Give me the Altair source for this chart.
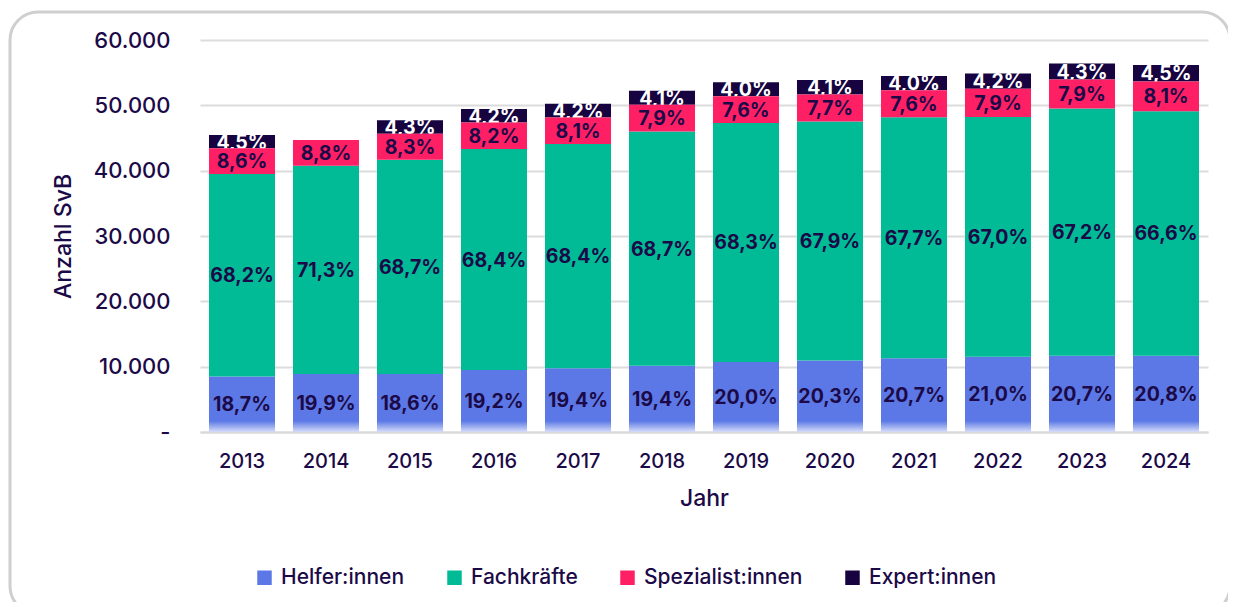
import altair as alt
import pandas as pd

years = ["2013", "2014", "2015", "2016", "2017", "2018", "2019", "2020", "2021", "2022", "2023", "2024"]
categories = ["Helfer:innen", "Fachkräfte", "Spezialist:innen", "Expert:innen"]
colors = ["#5b78e6", "#00bb96", "#ff1f65", "#16033f"]

helfer = [8501, 8893, 8882, 9492, 9739, 10125, 10714, 10938, 11279, 11508, 11660, 11683]
fach = [31004, 31864, 32804, 33817, 34337, 35855, 36588, 36585, 36890, 36716, 37854, 37409]
spez = [3910, 3933, 3963, 4054, 4066, 4123, 4071, 4149, 4141, 4329, 4450, 4550]
expert = [2046, 0, 2053, 2076, 2108, 2140, 2143, 2209, 2180, 2302, 2422, 2528]

helfer_pct = ["18,7%", "19,9%", "18,6%", "19,2%", "19,4%", "19,4%", "20,0%", "20,3%", "20,7%", "21,0%", "20,7%", "20,8%"]
fach_pct = ["68,2%", "71,3%", "68,7%", "68,4%", "68,4%", "68,7%", "68,3%", "67,9%", "67,7%", "67,0%", "67,2%", "66,6%"]
spez_pct = ["8,6%", "8,8%", "8,3%", "8,2%", "8,1%", "7,9%", "7,6%", "7,7%", "7,6%", "7,9%", "7,9%", "8,1%"]
expert_pct = ["4,5%", "", "4,3%", "4,2%", "4,2%", "4,1%", "4,0%", "4,1%", "4,0%", "4,2%", "4,3%", "4,5%"]

TXT = "#1b0a47"
FONT = "Inter"

series = [helfer, fach, spez, expert]
labels = [helfer_pct, fach_pct, spez_pct, expert_pct]
label_colors = [TXT, TXT, TXT, "#ffffff"]

rows = []
for ci, cat in enumerate(categories):
    for yi, yr in enumerate(years):
        rows.append({
            "year": yr,
            "cat": cat,
            "ord": ci,
            "value": series[ci][yi],
            "label": labels[ci][yi],
            "lcolor": label_colors[ci],
        })
df = pd.DataFrame(rows)

x_enc = alt.X(
    "year:N",
    title="Jahr",
    scale=alt.Scale(paddingInner=0.214, paddingOuter=0.107),
    axis=alt.Axis(
        labelAngle=0, labelFontSize=20, labelFont=FONT, labelColor=TXT, labelFontWeight=500,
        labelPadding=19, ticks=False, domainColor="#d9d9d9", domainWidth=2,
        titleFontSize=23, titleFont=FONT, titleColor=TXT, titleFontWeight=500, titlePadding=16,
    ),
)

y_scale = alt.Scale(domain=[0, 60000], nice=False)
y_axis = alt.Axis(
    values=[0, 10000, 20000, 30000, 40000, 50000, 60000],
    labelExpr="datum.value == 0 ? '-\u00a0\u00a0\u00a0' : replace(format(datum.value, ','), ',', '.')",
    labelFontSize=22, labelFont=FONT, labelColor=TXT, labelFontWeight=500,
    labelPadding=30, ticks=False, domain=False,
    gridColor="#dcdcdc", gridWidth=2,
    titleFontSize=23, titleFont=FONT, titleColor=TXT, titleFontWeight=500, titlePadding=18,
)

stacked = alt.Chart(df).transform_stack(
    stack="value", as_=["y0", "y1"], groupby=["year"],
    sort=[alt.SortField("ord", order="ascending")],
).transform_calculate(
    mid="(datum.y0 + datum.y1) / 2"
)

color_enc = alt.Color(
    "cat:N",
    scale=alt.Scale(domain=categories, range=colors),
    legend=alt.Legend(
        title=None, orient="none", legendX=54, legendY=527, direction="horizontal",
        symbolType="square", symbolSize=210, symbolStrokeWidth=0,
        labelFontSize=21, labelFont=FONT, labelColor=TXT, labelFontWeight=500,
        columnPadding=39, labelOffset=6,
    ),
    sort=categories,
)

is_exp = "datum.cat == 'Expert:innen'"
not_exp = "datum.cat != 'Expert:innen'"

bars_exp = stacked.transform_filter(is_exp).mark_bar().encode(
    x=x_enc,
    y=alt.Y("y0:Q", title="Anzahl SvB", scale=y_scale, axis=y_axis),
    y2="y1:Q",
    color=color_enc,
)

bars_rest = stacked.transform_filter(not_exp).mark_bar().encode(
    x=x_enc,
    y=alt.Y("y0:Q", title="Anzahl SvB", scale=y_scale, axis=y_axis),
    y2="y1:Q",
    color=color_enc,
)

text_kw = dict(font=FONT, fontSize=19.5, fontWeight="bold", baseline="middle", align="center", dy=1)

texts_exp = stacked.transform_filter(is_exp).transform_filter("datum.label != ''").mark_text(**text_kw).encode(
    x=alt.X("year:N"),
    y=alt.Y("mid:Q"),
    text="label:N",
    color=alt.Color("lcolor:N", scale=None),
)

texts_rest = stacked.transform_filter(not_exp).mark_text(**text_kw).encode(
    x=alt.X("year:N"),
    y=alt.Y("mid:Q"),
    text="label:N",
    color=alt.Color("lcolor:N", scale=None),
)

fade = alt.Chart(pd.DataFrame({"year": years})).mark_bar(
    color=alt.Gradient(
        gradient="linear",
        stops=[
            alt.GradientStop(color="rgba(255,255,255,0)", offset=0),
            alt.GradientStop(color="rgba(255,255,255,0.75)", offset=1),
        ],
        x1=0, x2=0, y1=0, y2=1,
    )
).encode(
    x=alt.X("year:N"),
    y=alt.datum(0),
    y2=alt.datum(1700),
)

border = alt.Chart(pd.DataFrame({"a": [0]})).mark_rect(
    fillOpacity=0, stroke="#cfcfcf", strokeWidth=3, cornerRadius=28
).encode(
    x=alt.value(-190), x2=alt.value(1030), y=alt.value(-28), y2=alt.value(574)
)

chart = alt.layer(border, bars_exp, texts_exp, bars_rest, fade, texts_rest).properties(
    width=1008,
    height=392,
    padding={"left": 192, "top": 32, "right": 20, "bottom": 170},
    autosize=alt.AutoSizeParams(type="none"),
).configure_view(stroke=None)

chart.save("out.html", embed_options={"renderer": "svg", "actions": False})
